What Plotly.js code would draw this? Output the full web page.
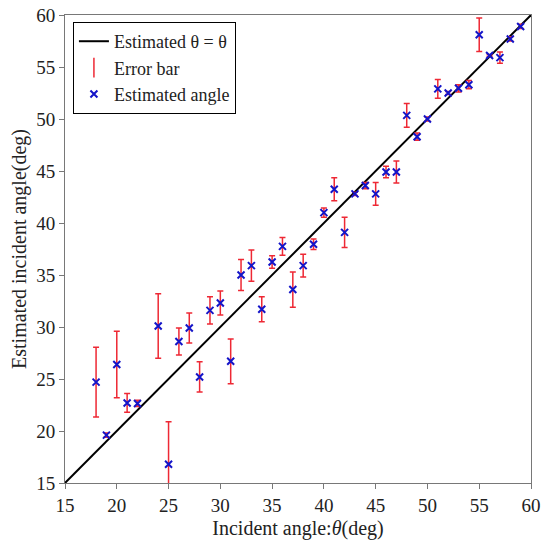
<!DOCTYPE html>
<html>
<head>
<meta charset="utf-8">
<script src="https://cdn.plot.ly/plotly-3.0.1.min.js"></script>
<style>html,body{margin:0;padding:0;background:#fff;}#chart{width:550px;height:553px;}</style>
</head>
<body>
<div id="chart"></div>
<script>
const incidentAngles = [18,19,20,21,22,24,25,26,27,28,29,30,31,32,33,34,35,36,37,38,39,40,41,42,43,44,45,46,47,48,49,50,51,52,53,54,55,56,57,58,59];
const estimatedAngles = [24.7,19.6,26.4,22.7,22.65,30.1,16.8,28.6,29.9,25.2,31.6,32.3,26.7,35.0,35.9,31.7,36.25,37.75,33.6,35.9,37.95,41.0,43.25,39.1,42.8,43.6,42.8,44.9,44.9,50.35,48.3,50.0,52.9,52.5,52.95,53.3,58.1,56.1,55.9,57.7,58.9];
const errorValues = [3.35,0.2,3.2,0.9,0.3,3.1,4.1,1.3,1.45,1.45,1.3,1.15,2.15,1.5,1.5,1.2,0.6,0.85,1.7,1.1,0.5,0.45,1.1,1.45,0.15,0.3,1.1,0.55,1.05,1.15,0.35,0.2,0.9,0.15,0.35,0.4,1.6,0.1,0.55,0.2,0.2];
const refLine = [15, 60];
const xTicks = [15,20,25,30,35,40,45,50,55,60];
const yTicks = [15,20,25,30,35,40,45,50,55,60];

const font = '"Liberation Serif", "Times New Roman", Times, serif';
const red = 'rgb(238,40,52)';
const blue = 'rgb(20,20,200)';

const traces = [
  {
    x: refLine, y: refLine, mode: 'lines', name: 'Estimated θ = θ',
    line: {color: '#000', width: 2}
  },
  {
    x: [null], y: [null], mode: 'markers', name: 'Error bar',
    marker: {symbol: 'line-ns-open', size: 14, color: red, line: {color: red, width: 1.5}}
  },
  {
    x: incidentAngles, y: estimatedAngles, mode: 'markers', name: 'Estimated angle',
    marker: {symbol: 'x-thin-open', size: 7, color: blue, line: {color: blue, width: 2}},
    error_y: {type: 'data', array: errorValues, visible: true, color: red, thickness: 1.5, width: 3}
  }
];

const axisCommon = {
  showgrid: false, zeroline: false, showline: true, mirror: true,
  linecolor: 'rgb(120,120,120)', linewidth: 1,
  ticks: 'outside', ticklen: 5, tickcolor: 'rgb(120,120,120)', tickwidth: 1,
  tickfont: {family: font, size: 19, color: '#222'}
};

const layout = {
  width: 550, height: 553,
  margin: {l: 65, r: 19, t: 15, b: 70},
  paper_bgcolor: '#fff', plot_bgcolor: '#fff',
  font: {family: font, color: '#222'},
  showlegend: true,
  legend: {
    x: 0.017, y: 0.985, xanchor: 'left', yanchor: 'top',
    bgcolor: '#fff', bordercolor: '#000', borderwidth: 1,
    font: {family: font, size: 18, color: '#222'},
    tracegroupgap: 0, itemwidth: 30
  },
  xaxis: Object.assign({}, axisCommon, {
    range: [15, 60], tickvals: xTicks, ticktext: xTicks.map(String),
    title: {text: 'Incident angle:<i>θ</i>(deg)', font: {family: font, size: 20, color: '#222'}, standoff: 6}
  }),
  yaxis: Object.assign({}, axisCommon, {
    range: [15, 60], tickvals: yTicks, ticktext: yTicks.map(String),
    title: {text: 'Estimated incident angle(deg)', font: {family: font, size: 20, color: '#222'}, standoff: 4}
  })
};

Plotly.newPlot('chart', traces, layout, {displayModeBar: false, staticPlot: true});
</script>
</body>
</html>
